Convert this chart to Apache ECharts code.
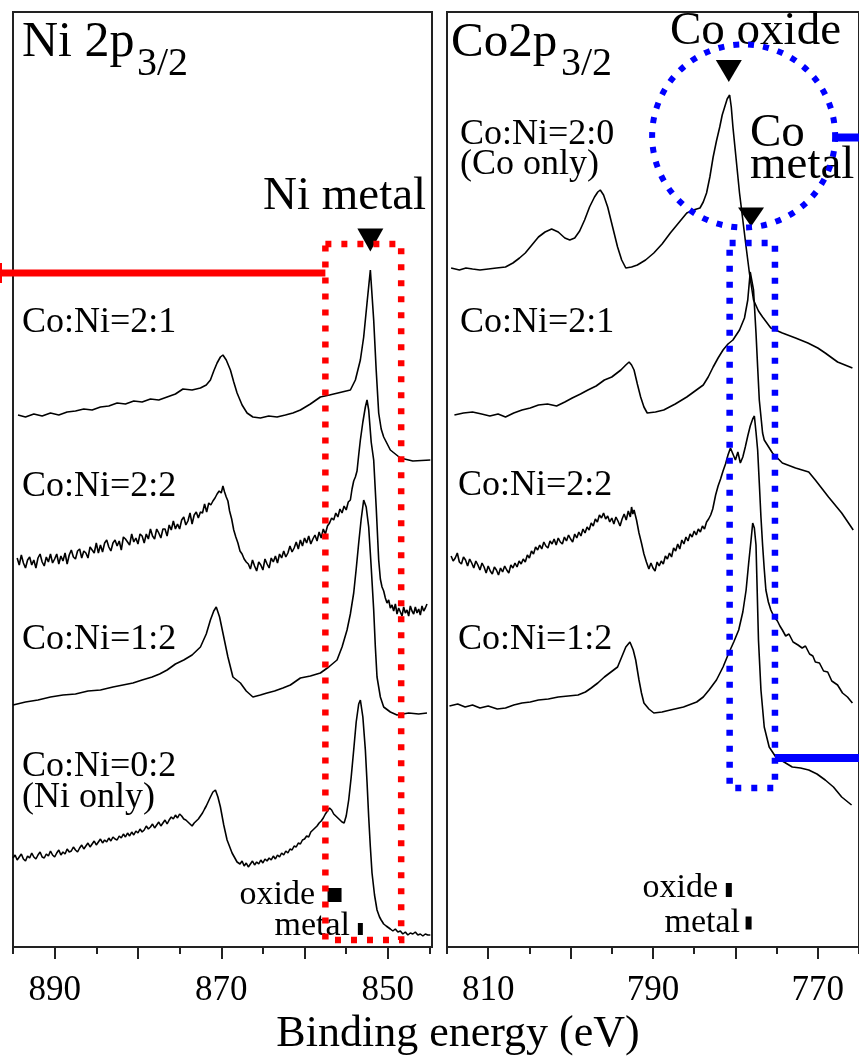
<!DOCTYPE html>
<html><head><meta charset="utf-8">
<script src="https://cdn.jsdelivr.net/npm/echarts@6/dist/echarts.min.js"></script>
<style>html,body{margin:0;padding:0;background:#fff}#c{width:859px;height:1058px}</style>
</head><body><div id="c"></div>
<script>
// ---------------- DATA (binding energy eV, intensity a.u. with stacking offset) ----------------
const niTickLabels = [850, 870, 890];
const niMajorTicks = [850, 860, 870, 880, 890];
const niMinorTicks = [845, 855, 865, 875, 885, 895];
const coTickLabels = [770, 790, 810];
const coMajorTicks = [770, 780, 790, 800, 810];
const coMinorTicks = [765, 775, 785, 795, 805, 815];

const niLabels = ['Co:Ni=2:1', 'Co:Ni=2:2', 'Co:Ni=1:2', 'Co:Ni=0:2\n(Ni only)'];
const coLabels = ['Co:Ni=2:0\n(Co only)', 'Co:Ni=2:1', 'Co:Ni=2:2', 'Co:Ni=1:2'];

const ni21 = [[894.4,532],[893.5,530],[892.5,533],[891.5,531],[890.5,534],[889.5,532],[888.5,535],[887.5,536],[886.5,538],[885.5,537],[884.5,540],[883.5,541],[882.5,544],[881.5,543],[880.5,546],[879.5,545],[878.5,548],[877.5,547],[876.5,550],[875.5,553],[874.6,558],[873.5,557],[872.5,559],[871.8,562],[871.3,567],[870.9,576],[870.5,584],[870.1,590],[869.8,592],[869.4,587],[868.9,577],[868.5,565],[868.1,554],[867.5,542],[866.9,534],[866.2,530],[865.3,529],[864.3,531],[863.3,530],[862.3,532],[861.4,534],[860.5,537],[859.3,543],[858.1,550],[857.0,552],[856.0,554],[855.0,556],[854.5,557],[853.9,567],[853.3,587],[852.9,610],[852.5,644],[852.1,677],[851.7,627],[851.4,577],[851.1,534],[850.8,518],[850.5,510],[849.7,497],[848.5,489],[847.0,486],[844.9,487]];

const ni22 = [[894.5,389],[894.25,382],[894.0,392],[893.75,384],[893.5,379],[893.25,387],[893.0,390],[892.75,382],[892.5,387],[892.25,379],[892.0,389],[891.75,393],[891.5,385],[891.25,381],[891.0,390],[890.75,385],[890.5,393],[890.25,384],[890.0,388],[889.75,393],[889.5,383],[889.25,391],[889.0,386],[888.75,394],[888.5,383],[888.25,392],[888.0,397],[887.75,390],[887.5,388],[887.25,396],[887.0,398],[886.75,389],[886.5,396],[886.25,394],[886.0,389],[885.75,400],[885.5,397],[885.25,394],[885.0,404],[884.75,394],[884.5,402],[884.25,395],[884.0,404],[883.75,407],[883.5,400],[883.25,396],[883.0,404],[882.75,407],[882.5,401],[882.25,406],[882.0,397],[881.75,410],[881.5,408],[881.25,405],[881.0,402],[880.75,413],[880.5,405],[880.25,409],[880.0,403],[879.75,413],[879.5,411],[879.25,404],[879.0,413],[878.75,408],[878.5,418],[878.25,411],[878.0,408],[877.75,418],[877.5,414],[877.25,409],[877.0,418],[876.75,418],[876.5,411],[876.25,422],[876.0,417],[875.75,426],[875.5,418],[875.25,423],[875.0,418],[874.75,427],[874.5,430],[874.25,422],[874.0,426],[873.75,434],[873.5,423],[873.25,432],[873.0,435],[872.75,429],[872.5,435],[872.25,434],[872.0,443],[871.75,435],[871.5,444],[871.25,442],[871.0,446],[870.75,449],[870.5,453],[870.25,456],[870.0,454],[869.8,461],[869.6,455],[869.4,450],[869.2,446],[869.0,436],[868.75,428],[868.5,417],[868.25,410],[868.0,404],[867.75,396],[867.5,393],[867.25,388],[867.0,385],[866.75,383],[866.5,378],[866.25,387],[866.0,381],[865.75,376],[865.5,385],[865.25,382],[865.0,377],[864.75,388],[864.5,383],[864.25,379],[864.0,389],[863.75,385],[863.5,391],[863.25,384],[863.0,393],[862.75,389],[862.5,396],[862.25,390],[862.0,394],[861.75,401],[861.5,395],[861.25,399],[861.0,405],[860.75,398],[860.5,407],[860.25,401],[860.0,409],[859.75,404],[859.5,411],[859.25,403],[859.0,408],[858.75,412],[858.5,406],[858.25,415],[858.0,409],[857.75,418],[857.5,413],[857.25,421],[857.0,424],[856.75,429],[856.5,427],[856.25,434],[856.0,430],[855.75,438],[855.5,434],[855.25,441],[855.0,437],[854.75,445],[854.5,447],[854.3,458],[854.1,466],[853.9,470],[853.7,476],[853.5,492],[853.3,507],[853.0,525],[852.7,540],[852.5,547],[852.3,537],[852.0,505],[851.7,487],[851.4,440],[851.1,387],[850.9,368],[850.7,360],[850.5,356],[850.3,349],[850.1,344],[849.9,347],[849.7,339],[849.5,342],[849.3,336],[849.1,343],[848.9,333],[848.7,339],[848.5,335],[848.3,331],[848.1,340],[847.9,334],[847.7,337],[847.5,331],[847.3,341],[847.1,336],[846.9,333],[846.7,340],[846.5,334],[846.3,338],[846.1,332],[845.9,341],[845.7,336],[845.5,339],[845.3,343]];

const ni12 = [[895.0,242],[893.5,245],[892.0,247],[890.5,250],[889.0,252],[887.5,253],[886.0,256],[884.5,257],[883.0,260],[881.8,262],[880.6,264],[879.5,267],[878.3,270],[877.4,273],[876.5,277],[875.5,283],[874.5,287],[873.5,292],[872.5,300],[871.8,313],[871.3,327],[870.9,336],[870.6,340],[870.2,330],[869.8,314],[869.2,290],[868.6,270],[867.7,264],[867.0,256],[866.2,250],[865.3,252],[864.5,254],[863.6,256],[862.6,259],[861.7,262],[860.5,269],[859.3,271],[858.1,274],[857.1,280],[856.1,287],[855.5,300],[854.9,317],[854.5,333],[854.1,354],[853.8,378],[853.5,404],[853.2,428],[852.9,447],[852.6,440],[852.3,420],[852.0,380],[851.7,337],[851.5,300],[851.3,270],[850.9,250],[850.5,240],[849.7,235],[848.9,232],[847.5,234],[846.3,233],[845.3,234]];

const ni02 = [[895.0,89],[894.75,92],[894.5,87],[894.25,90],[894.0,93],[893.75,88],[893.5,86],[893.25,91],[893.0,89],[892.75,94],[892.5,90],[892.25,88],[892.0,92],[891.75,95],[891.5,90],[891.25,89],[891.0,93],[890.75,91],[890.5,96],[890.25,92],[890.0,90],[889.75,94],[889.5,97],[889.25,92],[889.0,95],[888.75,93],[888.5,98],[888.25,95],[888.0,96],[887.75,100],[887.5,97],[887.25,95],[887.0,99],[886.75,102],[886.5,98],[886.25,101],[886.0,104],[885.75,100],[885.5,103],[885.25,106],[885.0,102],[884.75,105],[884.5,108],[884.25,104],[884.0,107],[883.75,105],[883.5,109],[883.25,106],[883.0,110],[882.75,108],[882.5,107],[882.25,111],[882.0,109],[881.75,113],[881.5,110],[881.25,114],[881.0,111],[880.75,115],[880.5,112],[880.25,116],[880.0,114],[879.75,118],[879.5,115],[879.25,117],[879.0,121],[878.75,118],[878.5,120],[878.25,123],[878.0,119],[877.75,122],[877.5,125],[877.25,121],[877.0,124],[876.75,127],[876.5,123],[876.25,127],[876.0,130],[875.75,128],[875.5,132],[875.25,129],[875.0,133],[874.75,131],[874.5,128],[874.25,127],[874.0,125],[873.75,123],[873.5,121],[873.25,124],[873.0,126],[872.75,128],[872.5,131],[872.25,134],[872.0,138],[871.8,141],[871.3,150],[871.0,155],[870.7,157],[870.4,150],[870.1,140],[869.7,122],[869.3,107],[868.7,94],[868.1,85],[867.75,83],[867.5,86],[867.25,81],[867.0,84],[866.75,80],[866.5,83],[866.25,86],[866.0,82],[865.75,85],[865.5,83],[865.25,87],[865.0,84],[864.75,88],[864.5,86],[864.25,89],[864.0,87],[863.75,91],[863.5,88],[863.25,92],[863.0,90],[862.75,94],[862.5,92],[862.25,96],[862.0,94],[861.75,98],[861.5,97],[861.25,101],[861.0,100],[860.75,104],[860.5,103],[860.25,107],[860.0,108],[859.75,111],[859.5,110],[859.25,115],[859.0,117],[858.75,119],[858.5,121],[858.25,124],[858.0,126],[857.75,129],[857.5,133],[857.25,136],[857.0,139],[856.75,137],[856.5,133],[856.25,131],[856.0,129],[855.75,127],[855.5,125],[855.25,124],[855.0,131],[854.7,147],[854.4,170],[854.1,197],[853.8,225],[853.5,243],[853.3,247],[853.0,230],[852.7,197],[852.5,165],[852.3,130],[852.1,100],[851.9,74],[851.6,52],[851.3,37],[851.0,30],[850.8,27],[850.5,23],[850.2,21],[850.0,19],[849.7,18],[849.4,16],[849.1,18],[848.8,15],[848.5,16],[848.2,13],[847.9,15],[847.6,12],[847.3,14],[847.0,13],[846.7,15],[846.4,12],[846.1,13],[845.8,11],[845.5,13],[845.2,12],[844.9,12]];

const co20 = [[814.5,679],[813.5,677],[812.7,679],[811.9,678],[811.0,677],[810.0,678],[809.0,679],[807.9,680],[807.0,684],[806.2,689],[805.5,694],[804.7,702],[803.9,710],[803.1,715],[802.3,718],[801.5,715],[800.7,709],[800.1,707],[799.5,709],[798.9,716],[798.3,727],[797.7,740],[797.1,750],[796.7,755],[796.4,757],[796.0,752],[795.5,740],[794.9,720],[794.3,700],[793.8,687],[793.3,679],[792.6,680],[791.9,682],[790.9,687],[789.9,694],[788.9,703],[787.9,714],[786.9,724],[785.9,734],[785.1,737],[784.3,739],[783.9,745],[783.5,754],[783.1,770],[782.7,790],[782.3,806],[781.9,820],[781.6,832],[781.3,840],[781.0,848],[780.7,852],[780.5,840],[780.3,820],[779.9,787],[779.5,754],[779.1,727],[778.7,700],[778.3,674],[777.8,647],[777.2,636],[776.7,630],[775.7,619],[774.3,614],[772.7,609],[771.2,604],[770.0,599],[769.1,594],[767.6,585],[765.8,579]];

const co21 = [[814.1,532],[813.0,534],[811.9,535],[810.8,533],[809.8,531],[808.8,533],[807.9,530],[806.9,534],[805.9,537],[804.9,539],[803.9,542],[802.8,543],[801.7,541],[800.7,545],[799.8,549],[798.8,553],[797.9,557],[796.9,561],[795.9,567],[795.0,570],[793.9,577],[793.3,582],[792.9,585],[792.6,582],[792.3,577],[791.9,563],[791.5,550],[791.1,540],[790.7,534],[789.7,535],[788.7,537],[787.3,543],[785.9,550],[784.9,556],[783.9,562],[783.3,570],[782.7,580],[782.1,589],[781.5,597],[780.9,603],[780.3,607],[779.9,612],[779.5,617],[778.9,629],[778.5,647],[778.2,675],[777.8,657],[777.5,614],[777.3,580],[777.1,547],[776.7,514],[776.5,507],[775.5,494],[774.3,484],[772.7,479],[771.1,475],[770.3,467],[768.7,450],[767.1,434],[765.7,417]];

const co22 = [[814.5,391],[814.25,386],[814.0,389],[813.75,394],[813.5,385],[813.25,383],[813.0,390],[812.75,387],[812.5,381],[812.25,388],[812.0,384],[811.75,379],[811.5,386],[811.25,382],[811.0,377],[810.75,384],[810.5,380],[810.25,374],[810.0,381],[809.75,376],[809.5,373],[809.25,380],[809.0,377],[808.75,372],[808.5,379],[808.25,375],[808.0,381],[807.75,377],[807.5,374],[807.25,382],[807.0,379],[806.75,384],[806.5,380],[806.25,386],[806.0,383],[805.75,388],[805.5,385],[805.25,392],[805.0,389],[804.75,396],[804.5,393],[804.25,400],[804.0,397],[803.75,402],[803.5,398],[803.25,405],[803.0,401],[802.75,399],[802.5,406],[802.25,403],[802.0,408],[801.75,402],[801.5,409],[801.25,405],[801.0,403],[800.75,410],[800.5,406],[800.25,412],[800.0,408],[799.75,405],[799.5,413],[799.25,409],[799.0,415],[798.75,411],[798.5,418],[798.25,414],[798.0,420],[797.75,417],[797.5,424],[797.25,421],[797.0,428],[796.75,425],[796.5,432],[796.25,429],[796.0,434],[795.75,428],[795.5,431],[795.25,425],[795.0,429],[794.75,423],[794.5,430],[794.25,426],[794.0,421],[793.75,428],[793.5,433],[793.25,427],[793.0,436],[792.75,430],[792.6,440],[792.45,433],[792.3,437],[792.0,427],[791.7,414],[791.4,404],[791.1,393],[790.8,385],[790.5,378],[790.25,384],[790.0,379],[789.75,376],[789.5,385],[789.25,381],[789.0,386],[788.75,383],[788.5,391],[788.25,388],[788.0,394],[787.75,390],[787.5,399],[787.25,396],[787.0,403],[786.75,398],[786.5,407],[786.25,403],[786.0,410],[785.75,406],[785.5,413],[785.25,410],[785.0,416],[784.75,412],[784.5,418],[784.25,415],[784.0,421],[783.75,418],[783.5,425],[783.25,428],[783.0,432],[782.75,438],[782.4,452],[782.1,461],[781.8,468],[781.5,476],[781.2,483],[780.9,492],[780.6,499],[780.3,493],[780.0,487],[779.7,495],[779.4,484],[779.1,490],[778.8,500],[778.5,511],[778.2,521],[777.9,528],[777.7,531],[777.5,515],[777.3,497],[777.1,464],[776.9,430],[776.7,402],[776.5,378],[776.3,357],[776.0,345],[775.7,337],[775.3,330],[774.9,326],[774.6,321],[774.3,317],[773.9,311],[773.5,313],[773.0,305],[772.4,302],[771.9,299],[771.5,301],[771.0,293],[770.6,291],[770.3,285],[769.8,284],[769.3,276],[768.8,275],[768.3,266],[767.6,262],[767.0,254],[766.4,250],[765.8,244]];

const co12 = [[814.7,241],[813.7,243],[812.8,240],[811.9,242],[811.0,239],[810.0,241],[808.9,238],[807.9,239],[806.9,242],[805.9,244],[804.9,245],[803.9,247],[802.7,248],[801.5,250],[800.3,251],[799.1,252],[798.2,255],[797.5,259],[796.7,264],[795.9,270],[795.1,275],[794.3,280],[793.8,290],[793.3,300],[792.8,305],[792.4,297],[792.1,287],[791.7,267],[791.4,254],[791.1,244],[790.5,238],[789.9,234],[788.9,235],[787.9,237],[786.3,240],[784.7,245],[783.9,250],[783.2,257],[782.3,267],[781.5,280],[780.8,294],[780.2,305],[779.6,317],[779.1,335],[778.7,357],[778.4,383],[778.1,407],[777.9,424],[777.7,419],[777.5,402],[777.2,307],[776.9,257],[776.5,220],[775.9,200],[775.1,190],[774.1,185],[773.1,180],[772.1,179],[771.1,177],[770.1,173],[769.1,167],[768.1,160],[767.1,150],[765.9,142]];

// reference markers (oxide / metal positions) and peak arrows
const niRefMarks = [[856.4, 52, 14, 14], [853.3, 18, 5, 12]];
const coRefMarks = [[780.8, 57, 6, 14], [778.4, 24, 6, 13]];
const niArrows = [[852.1, 707]];
const coArrows = [[780.8, 876], [778.1, 730]];

// ---------------- CHART ----------------
const FONT = '"Liberation Serif","Times New Roman",serif';
const AX = '#222';
function xAxisPair(grid, min, max, major, minor, labels) {
  const base = {gridIndex: grid, type: 'value', min, max, inverse: true, position: 'bottom', splitLine: {show: false}};
  return [
    Object.assign({}, base, {
      axisLine: {show: true, onZero: false, lineStyle: {color: AX, width: 2}},
      axisTick: {show: true, customValues: major, length: 12, inside: false, lineStyle: {color: AX, width: 2}},
      axisLabel: {show: true, customValues: labels, margin: 26, fontSize: 35, fontFamily: FONT, color: '#000'}
    }),
    Object.assign({}, base, {
      axisLine: {show: false},
      axisTick: {show: true, customValues: minor, length: 7, inside: false, lineStyle: {color: AX, width: 2}},
      axisLabel: {show: false}
    })
  ];
}
function lineSeries(data, xi, yi) {
  return {type: 'line', xAxisIndex: xi, yAxisIndex: yi, data, symbol: 'none', showSymbol: false,
          lineStyle: {color: '#000', width: 1.6}, z: 2, silent: true, animation: false};
}
function markSeries(data, xi, yi) {
  return {type: 'scatter', xAxisIndex: xi, yAxisIndex: yi, symbol: 'rect', z: 3, silent: true,
          data: data.map(d => ({value: [d[0], d[1]], symbolSize: [d[2], d[3]]})),
          itemStyle: {color: '#000', opacity: 1}};
}
function arrowSeries(data, xi, yi, sizes) {
  return {type: 'scatter', xAxisIndex: xi, yAxisIndex: yi, symbol: 'triangle', symbolRotate: 180, z: 3, silent: true,
          data: data.map((d, k) => ({value: d, symbolSize: sizes[k]})), itemStyle: {color: '#000', opacity: 1}};
}

const chart = echarts.init(document.getElementById('c'), null, {renderer: 'canvas'});
const option = {
  animation: false,
  backgroundColor: '#fff',
  grid: [
    {left: 13, top: 12, width: 419, height: 935, show: true, borderColor: AX, borderWidth: 2, backgroundColor: 'transparent'},
    {left: 447, top: 12, width: 417, height: 935, show: true, borderColor: AX, borderWidth: 2, backgroundColor: 'transparent'}
  ],
  xAxis: [].concat(
    xAxisPair(0, 844.7, 895, niMajorTicks, niMinorTicks, niTickLabels),
    xAxisPair(1, 765, 815, coMajorTicks, coMinorTicks, coTickLabels)
  ),
  yAxis: [
    {gridIndex: 0, type: 'value', min: 0, max: 935, show: false},
    {gridIndex: 1, type: 'value', min: 0, max: 935, show: false}
  ],
  series: [
    lineSeries(ni21, 0, 0), lineSeries(ni22, 0, 0), lineSeries(ni12, 0, 0), lineSeries(ni02, 0, 0),
    lineSeries(co20, 2, 1), lineSeries(co21, 2, 1), lineSeries(co22, 2, 1), lineSeries(co12, 2, 1),
    markSeries(niRefMarks, 0, 0), markSeries(coRefMarks, 2, 1),
    arrowSeries(niArrows, 0, 0, [[26, 23]]), arrowSeries(coArrows, 2, 1, [[26, 22], [26, 19]])
  ]
};
chart.setOption(option);

// ---------------- TEXT & ANNOTATIONS ----------------
function T(text, x, baseline, size, opts) {
  opts = opts || {};
  const lh = opts.lh || size;
  const al = opts.align || 'left';
  return {type: 'text', z: 50, x: x, y: baseline - lh / 2 - 0.34 * size, silent: true,
    style: {text: text, font: size + 'px ' + FONT, fill: '#000', align: al, textAlign: al,
            verticalAlign: 'top', textVerticalAlign: 'top', lineHeight: lh}};
}
const annot = {
  niBox: {e1: 857.5, e2: 848.4, i1: 7, i2: 703},
  niLine: {e1: 896.6, e2: 857.5, i: 674},
  coCircle: {e: 779.0, i: 811, r: 91.5},
  coLine1: {e1: 767.9, e2: 764.5, i: 809.5},
  coBox: {e1: 780.7, e2: 775.2, i1: 159, i2: 704},
  coLine2: {e1: 775.2, e2: 764.5, i: 189}
};
function P(ax, e, i) { return chart.convertToPixel({xAxisIndex: ax, yAxisIndex: ax === 0 ? 0 : 1}, [e, i]); }
const RED = '#ff0000', BLUE = '#0000ff';
const a1 = P(0, annot.niBox.e1, annot.niBox.i2), a2 = P(0, annot.niBox.e2, annot.niBox.i1);
const l1 = P(0, annot.niLine.e1, annot.niLine.i), l2 = P(0, annot.niLine.e2, annot.niLine.i);
const cc = P(2, annot.coCircle.e, annot.coCircle.i);
const m1 = P(2, annot.coLine1.e1, annot.coLine1.i), m2 = P(2, annot.coLine1.e2, annot.coLine1.i);
const b1 = P(2, annot.coBox.e1, annot.coBox.i2), b2 = P(2, annot.coBox.e2, annot.coBox.i1);
const n1 = P(2, annot.coLine2.e1, annot.coLine2.i), n2 = P(2, annot.coLine2.e2, annot.coLine2.i);

const graphics = [
  T('Ni 2p', 22, 60, 50), T('3/2', 137, 78, 40),
  T('Co2p', 451, 60, 49), T('3/2', 561, 78, 40),
  T('Ni metal', 263, 213, 47),
  T('Co oxide', 670, 48, 47),
  T('Co\nmetal', 750, 150, 47, {lh: 32}),
  T(niLabels[0], 22, 335, 36), T(niLabels[1], 22, 499, 36), T(niLabels[2], 22, 652, 36),
  T(niLabels[3], 22, 779, 36, {lh: 31}),
  T(coLabels[0], 460, 147, 36, {lh: 30}), T(coLabels[1], 460, 335, 36),
  T(coLabels[2], 458, 498, 36), T(coLabels[3], 458, 652, 36),
  T('oxide', 315, 907, 34, {align: 'right'}), T('metal', 350, 938, 34, {align: 'right'}),
  T('oxide', 718, 900, 34, {align: 'right'}), T('metal', 740, 935, 34, {align: 'right'}),
  T('Binding energy (eV)', 458, 1049, 44, {align: 'center'}),
  // red annotation
  {type: 'rect', z: 100, silent: true, shape: {x: a1[0], y: a1[1], width: a2[0] - a1[0], height: a2[1] - a1[1]},
   style: {fill: 'none', stroke: RED, lineWidth: 6.5, lineDash: [6, 10]}},
  {type: 'line', z: 100, silent: true, shape: {x1: l1[0], y1: l1[1], x2: l2[0], y2: l2[1]},
   style: {stroke: RED, lineWidth: 7}},
  {type: 'rect', z: 100, silent: true, shape: {x: 0, y: l1[1] - 10, width: 2, height: 20}, style: {fill: RED}},
  // blue annotation
  {type: 'circle', z: 100, silent: true, shape: {cx: cc[0], cy: cc[1], r: annot.coCircle.r},
   style: {fill: 'none', stroke: BLUE, lineWidth: 6, lineDash: [6, 9]}},
  {type: 'line', z: 100, silent: true, shape: {x1: m1[0], y1: m1[1], x2: m2[0], y2: m2[1]},
   style: {stroke: BLUE, lineWidth: 8}},
  {type: 'rect', z: 100, silent: true, shape: {x: b1[0], y: b1[1], width: b2[0] - b1[0], height: b2[1] - b1[1]},
   style: {fill: 'none', stroke: BLUE, lineWidth: 6.5, lineDash: [6, 10]}},
  {type: 'line', z: 100, silent: true, shape: {x1: n1[0], y1: n1[1], x2: n2[0], y2: n2[1]},
   style: {stroke: BLUE, lineWidth: 8}}
];
chart.setOption({graphic: graphics});
</script></body></html>
